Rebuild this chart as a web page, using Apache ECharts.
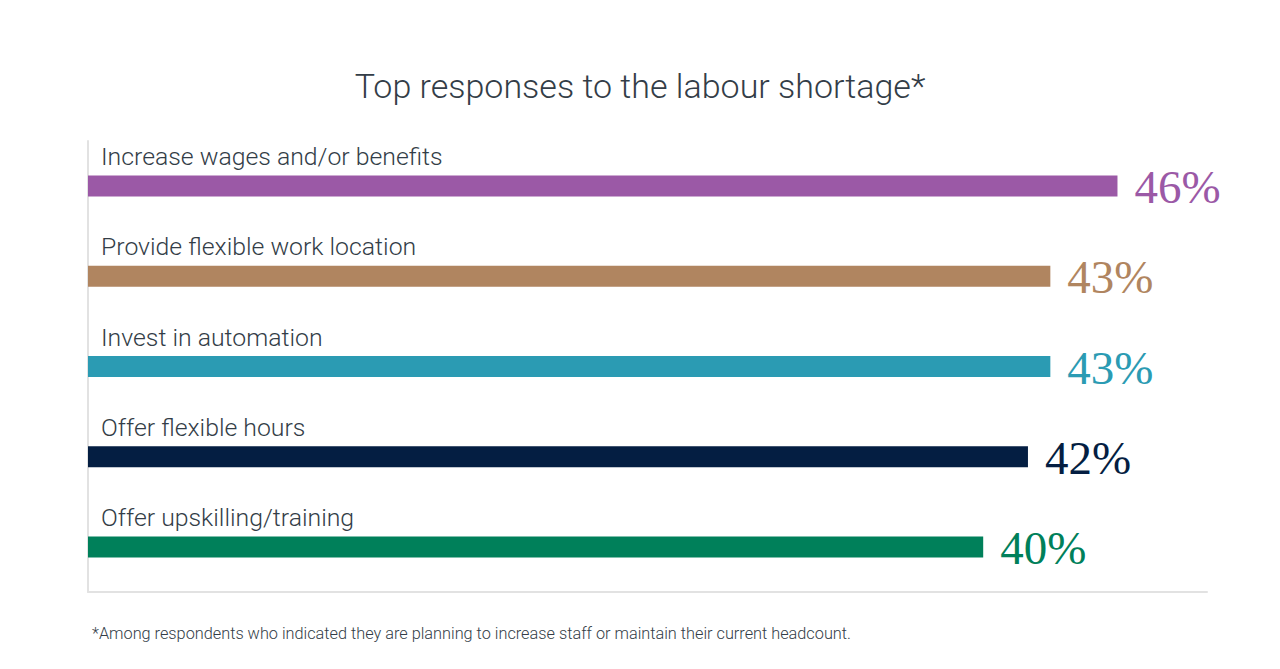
<!DOCTYPE html>
<html>
<head>
<meta charset="utf-8">
<script src="https://cdn.jsdelivr.net/npm/echarts@6/dist/echarts.min.js"></script>
<style>
  html, body { margin: 0; padding: 0; background: #fff; }
  #chart { width: 1280px; height: 669px; }
</style>
</head>
<body>
<div id="chart"></div>
<script>
/**数据 */
const categories = [
  "Increase wages and/or benefits",
  "Provide flexible work location",
  "Invest in automation",
  "Offer flexible hours",
  "Offer upskilling/training"
];
const values = [46, 43, 43, 42, 40];
const barColors = ["#9b59a6", "#b08560", "#2b9bb3", "#041e42", "#00805a"];

const textColor = "#333d47";
const sansFont = "Roboto";

let myChart = echarts.init(document.getElementById('chart'), null, {renderer: 'svg'});

let option = {
  animation: false,
  title: {
    text: "Top responses to the labour shortage*",
    left: 'center',
    top: 64,
    textStyle: {
      fontFamily: sansFont,
      fontWeight: 300,
      fontSize: 34,
      color: textColor
    }
  },
  graphic: [
    {
      type: 'text',
      left: 92,
      top: 625,
      style: {
        text: "*Among respondents who indicated they are planning to increase staff or maintain their current headcount.",
        font: '300 16.3px Roboto',
        fill: textColor
      }
    }
  ],
  grid: {
    left: 88,
    right: 73,
    top: 141,
    bottom: 77,
    containLabel: false
  },
  xAxis: {
    type: 'value',
    min: 0,
    max: 50,
    splitLine: { show: false },
    axisTick: { show: false },
    axisLabel: { show: false },
    axisLine: { show: true, lineStyle: { color: '#e2e2e2', width: 2 } }
  },
  yAxis: {
    type: 'category',
    data: categories,
    inverse: true,
    axisTick: { show: false },
    axisLine: { show: true, lineStyle: { color: '#e2e2e2', width: 2 } },
    axisLabel: {
      inside: true,
      margin: 13,
      align: 'left',
      verticalAlign: 'bottom',
      padding: [0, 0, 17, 0],
      fontFamily: sansFont,
      fontWeight: 300,
      fontSize: 24.8,
      color: textColor
    }
  },
  series: [
    {
      type: 'bar',
      barWidth: 21,
      data: values.map((v, i) => ({
        value: v,
        itemStyle: { color: barColors[i] },
        label: { color: barColors[i] }
      })),
      label: {
        show: true,
        position: 'right',
        distance: 17,
        formatter: '{c}%',
        fontFamily: 'Liberation Serif',
        fontSize: 47,
        offset: [0, 1]
      }
    }
  ]
};
myChart.setOption(option);
</script>
</body>
</html>
